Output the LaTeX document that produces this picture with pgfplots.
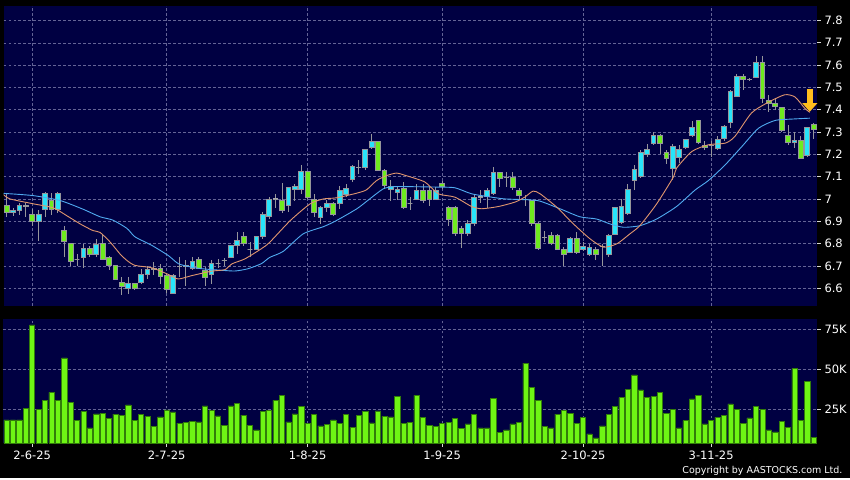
\documentclass[border=0pt]{standalone}
\usepackage{fontspec}
\setmainfont{DejaVu Sans}
\usepackage{pgfplots}
\pgfplotsset{compat=1.18}
\usepackage{pgfplotstable}
\usepgfplotslibrary{statistics}
\usetikzlibrary{arrows.meta}

\definecolor{navy}{RGB}{0,0,66}
\definecolor{gridc}{RGB}{100,100,150}
\definecolor{upc}{RGB}{40,228,250}
\definecolor{dnc}{RGB}{110,235,30}
\definecolor{edgec}{RGB}{150,150,155}
\definecolor{volc}{RGB}{110,245,20}
\definecolor{voledge}{RGB}{50,125,10}
\definecolor{maO}{RGB}{225,150,110}
\definecolor{maB}{RGB}{80,170,240}
\definecolor{arrowc}{RGB}{255,190,30}

\pgfplotstableread{
i o h l c
0 6.97 7.02 6.92 6.94
1 6.94 6.96 6.925 6.95
2 6.95 6.98 6.93 6.97
3 6.965 6.98 6.92 6.97
4 6.93 6.955 6.88 6.90
5 6.90 6.95 6.81 6.93
6 6.955 7.03 6.92 7.025
7 6.995 7.025 6.93 6.955
8 6.955 7.03 6.935 7.025
9 6.86 6.88 6.74 6.81
10 6.80 6.80 6.70 6.72
11 6.73 6.755 6.70 6.73
12 6.74 6.80 6.69 6.78
13 6.78 6.79 6.74 6.75
14 6.75 6.82 6.74 6.795
15 6.80 6.84 6.73 6.73
16 6.74 6.745 6.68 6.70
17 6.70 6.70 6.64 6.64
18 6.625 6.65 6.57 6.61
19 6.60 6.65 6.575 6.62
20 6.62 6.625 6.59 6.60
21 6.627 6.687 6.62 6.66
22 6.66 6.70 6.64 6.682
23 6.685 6.715 6.657 6.687
24 6.69 6.71 6.62 6.652
25 6.656 6.664 6.58 6.594
26 6.578 6.664 6.578 6.656
27 6.697 6.74 6.65 6.697
28 6.697 6.725 6.61 6.70
29 6.69 6.74 6.68 6.72
30 6.73 6.74 6.687 6.69
31 6.68 6.694 6.61 6.649
32 6.66 6.724 6.62 6.71
33 6.712 6.73 6.69 6.712
34 6.724 6.736 6.70 6.724
35 6.739 6.795 6.736 6.79
36 6.79 6.85 6.755 6.814
37 6.83 6.85 6.79 6.80
38 6.772 6.805 6.74 6.772
39 6.774 6.836 6.77 6.83
40 6.83 6.94 6.82 6.93
41 6.92 7.01 6.91 7.00
42 7.0 7.02 6.96 7.0
43 6.993 7.07 6.935 6.95
44 6.97 7.053 6.94 7.05
45 7.043 7.068 6.99 7.058
46 7.045 7.15 7.02 7.123
47 7.123 7.123 7.0 7.008
48 6.998 7.023 6.92 6.94
49 6.918 6.97 6.888 6.96
50 6.96 6.993 6.94 6.978
51 6.978 6.985 6.926 6.93
52 6.978 7.06 6.956 7.038
53 7.02 7.068 7.008 7.048
54 7.087 7.15 7.075 7.147
55 7.14 7.173 7.113 7.14
56 7.14 7.225 7.128 7.22
57 7.23 7.29 7.225 7.26
58 7.26 7.26 7.128 7.13
59 7.13 7.135 7.05 7.06
60 7.043 7.083 6.99 7.056
61 7.03 7.053 6.993 7.043
62 7.048 7.075 6.955 6.96
63 6.98 7.01 6.95 6.98
64 7.0 7.068 6.993 7.038
65 7.038 7.068 6.98 6.993
66 7.038 7.056 6.97 7.0
67 7.0 7.053 6.993 7.038
68 7.07 7.08 7.045 7.055
69 6.96 6.97 6.88 6.91
70 6.96 6.97 6.836 6.844
71 6.87 6.88 6.78 6.844
72 6.844 6.904 6.836 6.89
73 6.89 7.024 6.88 7.009
74 7.009 7.04 6.98 7.009
75 7.011 7.05 6.96 7.04
76 7.026 7.143 7.016 7.12
77 7.12 7.12 7.053 7.09
78 7.098 7.12 7.053 7.098
79 7.098 7.12 7.041 7.05
80 7.04 7.05 6.993 7.016
81 6.996 7.016 6.97 6.996
82 6.993 6.993 6.88 6.89
83 6.89 6.896 6.77 6.78
84 6.828 6.855 6.806 6.828
85 6.836 6.85 6.798 6.80
86 6.836 6.843 6.77 6.776
87 6.772 6.784 6.70 6.751
88 6.761 6.828 6.757 6.821
89 6.821 6.85 6.754 6.761
90 6.772 6.806 6.769 6.787
91 6.751 6.80 6.746 6.781
92 6.772 6.784 6.724 6.751
93 6.787 6.80 6.70 6.787
94 6.751 6.843 6.74 6.836
95 6.843 6.966 6.84 6.96
96 6.896 7.0 6.888 6.966
97 6.933 7.068 6.93 7.041
98 7.083 7.15 7.038 7.131
99 7.10 7.22 7.098 7.21
100 7.2 7.248 7.188 7.22
101 7.25 7.30 7.24 7.285
102 7.285 7.29 7.2 7.25
103 7.21 7.22 7.158 7.18
104 7.135 7.248 7.083 7.236
105 7.187 7.24 7.16 7.223
106 7.232 7.27 7.225 7.265
107 7.283 7.35 7.28 7.322
108 7.351 7.355 7.25 7.252
109 7.242 7.26 7.22 7.232
110 7.24 7.26 7.19 7.24
111 7.227 7.28 7.22 7.268
112 7.272 7.33 7.26 7.327
113 7.342 7.49 7.32 7.481
114 7.462 7.56 7.46 7.548
115 7.548 7.56 7.49 7.537
116 7.537 7.54 7.53 7.537
117 7.546 7.64 7.54 7.611
118 7.611 7.64 7.43 7.452
119 7.44 7.465 7.39 7.43
120 7.43 7.45 7.40 7.414
121 7.41 7.413 7.30 7.306
122 7.287 7.33 7.24 7.252
123 7.252 7.30 7.23 7.261
124 7.261 7.28 7.183 7.183
125 7.197 7.322 7.19 7.322
126 7.336 7.34 7.27 7.312
}\ohlc

\pgfplotstableread{
i v
0 18300
1 18300
2 18300
3 25400
4 77700
5 25000
6 30600
7 35600
8 30400
9 57100
10 29200
11 17900
12 23500
13 13300
14 22100
15 22500
16 19400
17 21900
18 21300
19 27700
20 17900
21 21700
22 20400
23 14200
24 20200
25 24600
26 23300
27 16300
28 16900
29 17500
30 17100
31 27100
32 24200
33 20800
34 15000
35 27100
36 28500
37 21300
38 15000
39 12100
40 23500
41 24200
42 30600
43 33750
44 17100
45 22100
46 26900
47 16000
48 21900
49 14600
50 15400
51 18300
52 16300
53 21900
54 13750
55 21300
56 23500
57 16500
58 24000
59 20600
60 20200
61 32900
62 16300
63 16900
64 33750
65 19800
66 15000
67 14400
68 16300
69 16700
70 19400
71 13100
72 15800
73 21900
74 13300
75 13300
76 31900
77 10400
78 12100
79 15800
80 16700
81 53750
82 38750
83 30400
84 14200
85 13300
86 21900
87 24200
88 22500
89 16300
90 20000
91 9600
92 7100
93 14600
94 21900
95 26700
96 32300
97 37500
98 46500
99 37100
100 32300
101 32900
102 35400
103 22500
104 25000
105 13300
106 17900
107 31500
108 33750
109 15800
110 17900
111 20000
112 21300
113 28300
114 24800
115 16300
116 19600
117 26700
118 24800
119 12100
120 10800
121 17500
122 13750
123 50400
124 17900
125 42300
126 7500
}\vol

\pgfplotsset{
  candlebase/.style={line width=0.75pt,
    boxplot/draw direction=y,
    boxplot/box extend=0.74,
    boxplot/whisker extend=0,
    boxplot/every whisker/.style={draw=edgec, line width=0.75pt},
    boxplot/every median/.style={draw=edgec, line width=0.75pt}},
  candleup/.style={candlebase, draw=edgec,
    boxplot/every box/.style={draw=edgec, fill=upc, line width=0.75pt}},
  candledn/.style={candlebase, draw=edgec,
    boxplot/every box/.style={draw=edgec, fill=dnc, line width=0.75pt}},
  candledj/.style={candlebase, draw=edgec,
    boxplot/every box/.style={draw=edgec!80!white, line width=0.9pt}},
  panel/.style={
    scale only axis, width=814pt,
    xmin=-0.47, xmax=126.6,
    axis background/.style={fill=navy},
    axis line style={draw=none},
    xtick={4,25,47,68,90,110},
    ytick pos=right, yticklabel pos=right,
    tick align=outside, major tick length=3.5pt,
    grid=major,
    major grid style={gridc, line width=0.5pt, dash pattern=on 2.5pt off 2.5pt},
    every tick/.style={draw=white!85!black, line width=0.6pt},
    tick label style={text=white, font=\fontsize{11.5}{13}\selectfont},
  },
}

\begin{document}
\begin{tikzpicture}
\fill[black] (0pt,0pt) rectangle (850pt,478pt);

% ---------------- price panel ----------------
\begin{axis}[panel,
  at={(3.5pt,172pt)}, anchor=south west, height=300pt,
  ymin=6.52, ymax=7.865,
  xticklabels={}, xtick style={draw=none},
  ytick={6.6,6.7,6.8,6.9,7,7.1,7.2,7.3,7.4,7.5,7.6,7.7,7.8},
  yticklabel style={/pgf/number format/.cd, fixed, precision=1, assume math mode=true},
]
\pgfplotsforeachungrouped \k in {0,...,126}{%
  \pgfplotstablegetelem{\k}{o}\of\ohlc\let\vo\pgfplotsretval
  \pgfplotstablegetelem{\k}{h}\of\ohlc\let\vh\pgfplotsretval
  \pgfplotstablegetelem{\k}{l}\of\ohlc\let\vl\pgfplotsretval
  \pgfplotstablegetelem{\k}{c}\of\ohlc\let\vc\pgfplotsretval
  \ifdim\vc pt<\vo pt \def\cst{dn}\else\def\cst{up}\fi
  \ifdim\vc pt=\vo pt \def\cst{dj}\fi
  \pgfmathsetmacro\bl{min(\vo,\vc)}%
  \pgfmathsetmacro\bu{max(\vo,\vc)}%
  \edef\cmd{\noexpand\addplot[candle\cst, boxplot prepared={draw position=\k,
     lower whisker=\vl, lower quartile=\bl, median=\bl,
     upper quartile=\bu, upper whisker=\vh}] coordinates {};}%
  \cmd
}
% moving averages
\addplot[maB, line width=0.9pt, smooth, tension=0.4] coordinates {
(-0.5,7.025) (4.14,7.015) (8.35,6.993) (11.94,6.954) (14.6,6.92) (16.6,6.905)
(18.8,6.868) (20.06,6.83) (22.67,6.792) (25.26,6.746) (26.8,6.71) (28.4,6.697)
(30.5,6.687) (33.6,6.68) (35.7,6.677) (37.7,6.687) (39.8,6.71) (41.1,6.738)
(43.2,6.765) (46.3,6.843) (49.5,6.876) (51.5,6.903) (54.7,6.956) (56.7,7.0)
(58.8,7.045) (60.4,7.055) (63.0,7.055) (67.4,7.053) (70.0,7.05) (72.6,7.023)
(75.7,7.008) (77.8,7.0) (81.5,6.996) (83.3,6.99) (86.4,6.956) (89.5,6.92)
(92.1,6.91) (94.2,6.888) (96.3,6.873) (98.9,6.88) (101.5,6.91) (104.6,6.966)
(107.5,7.04) (109.6,7.083) (112.2,7.153) (114.8,7.235) (117.4,7.317) (120.0,7.352)
(122.6,7.358) (125.4,7.362)
};
\addplot[maO, line width=0.9pt, smooth, tension=0.4] coordinates {
(-0.5,7.02) (0.55,7.0) (4.2,6.978) (7.3,6.96) (9.4,6.925) (11.5,6.888)
(13.5,6.858) (14.6,6.85) (16.2,6.806) (17.7,6.754) (18.8,6.724) (20.06,6.702)
(22.7,6.691) (25.3,6.661) (26.8,6.641) (28.9,6.656) (32.0,6.676) (34.1,6.683)
(35.2,6.709) (37.2,6.731) (39.8,6.777) (41.1,6.806) (44.3,6.903) (47.4,6.978)
(49.5,7.0) (51.5,7.005) (54.7,7.026) (56.2,7.041) (57.8,7.083) (59.4,7.105)
(60.9,7.116) (62.2,7.106) (65.3,7.076) (67.4,7.023) (70.0,7.008) (72.6,6.966)
(74.2,6.956) (76.8,6.966) (79.4,6.986) (80.9,7.008) (82.2,7.035) (83.3,7.023)
(85.9,6.963) (88.5,6.888) (91.1,6.821) (93.2,6.784) (95.3,6.799) (97.3,6.843)
(98.9,6.881) (101.5,6.978) (104.1,7.098) (104.6,7.138) (107.0,7.213) (109.6,7.243)
(112.2,7.25) (113.7,7.28) (116.3,7.385) (118.9,7.433) (121.5,7.467) (123.1,7.457)
(124.6,7.407) (125.4,7.388)
};
% arrow marker
\addplot[arrowc, line width=6pt, -{Triangle[width=14.5pt,length=8.5pt]},
  quiver={u=0, v=-0.103}] coordinates {(125.4,7.494)};
\end{axis}

% ---------------- volume panel ----------------
\begin{axis}[panel,
  at={(3.5pt,34.7pt)}, anchor=south west, height=124.3pt,
  ymin=3750, ymax=81400,
  xtick pos=bottom,
  xticklabels={2-6-25,2-7-25,1-8-25,1-9-25,2-10-25,3-11-25},
  xticklabel style={yshift=-0.5pt},
  ytick={25000,50000,75000}, yticklabels={25K,50K,75K},
  scaled y ticks=false,
]
\addplot[ybar, bar width=5.2pt, fill=volc, draw=voledge, line width=0.5pt]
  table[x=i, y=v] {\vol};
\end{axis}

\node[anchor=base east, text=white, font=\fontsize{9.5}{11}\selectfont]
  at (846pt,4pt) {Copyright by AASTOCKS.com Ltd.};
\end{tikzpicture}
\end{document}
